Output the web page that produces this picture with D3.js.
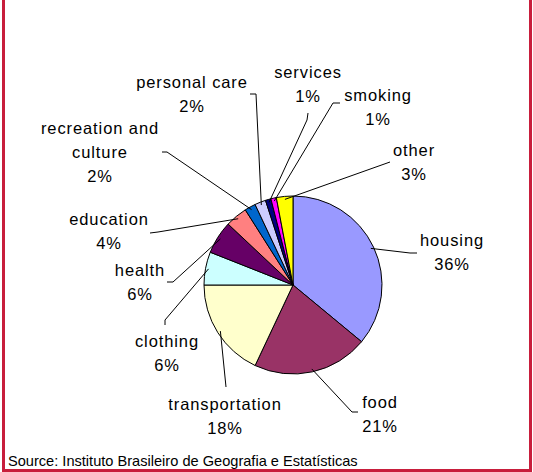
<!DOCTYPE html>
<html>
<head>
<meta charset="utf-8">
<script src="https://cdn.jsdelivr.net/npm/d3@7"></script>
<style>
  body { margin: 0; background: #fff; }
  svg { display: block; }
</style>
</head>
<body>
<svg id="chart" width="533" height="472"></svg>
<script>
// data (percent of household spending)
var categories = ["housing", "food", "transportation", "clothing", "health", "education",
  "recreation and culture", "personal care", "services", "smoking", "other"];
var shares = [36, 21, 18, 6, 6, 4, 2, 2, 1, 1, 3];
var colors = ["#9999ff", "#993366", "#ffffcc", "#ccffff", "#660066", "#ff8080",
  "#0066cc", "#ccccff", "#000080", "#ff00ff", "#ffff00"];
// how each label is broken into lines
var labelLines = [["housing"], ["food"], ["transportation"], ["clothing"], ["health"], ["education"],
  ["recreation and", "culture"], ["personal care"], ["services"], ["smoking"], ["other"]];
var sourceNote = "Source: Instituto Brasileiro de Geografia e Estatísticas";

// layout: label anchor (centre of first line) and leader elbow for each slice
var labelPos = [[452, 246], [380, 408], [225, 410], [167, 347], [140, 276], [109, 225],
  [100, 134], [192, 88], [308, 78], [378, 101], [414, 156]];
var elbows = [[[417, 253], [410, 253]], [[358, 412], [352, 412]], [[226, 387], [226, 387]],
  [[165, 325], [165, 320]], [[167, 282], [173, 282]], [[150, 233], [158, 232]],
  [[162, 152], [167, 152]], [[250, 94], [256, 94]], [[308, 113], [307, 120]],
  [[340, 103], [333, 103]], [[390, 162], [390, 162]]];

var svg = d3.select("#chart");
var cx = 293, cy = 285, radius = 89;

// red frame round the picture
svg.append("rect")
  .attr("x", 3.5).attr("y", -10)
  .attr("width", 527).attr("height", 480.5)
  .attr("fill", "none")
  .attr("stroke", "#c81e3c")
  .attr("stroke-width", 3);

var pie = d3.pie().sort(null).value(function(d) { return d; });
var arcs = pie(shares);
var arc = d3.arc().innerRadius(0).outerRadius(radius);

var g = svg.append("g").attr("transform", "translate(" + cx + "," + cy + ")");

g.selectAll("path.slice")
  .data(arcs)
  .enter().append("path")
  .attr("class", "slice")
  .attr("d", arc)
  .attr("fill", function(d, i) { return colors[i]; })
  .attr("stroke", "#000")
  .attr("stroke-width", 1);

// leader lines: from the slice edge to the elbow near each label
var edge = d3.arc().innerRadius(radius - 3).outerRadius(radius - 3);
var line = d3.line();
arcs.forEach(function(d, i) {
  var c = edge.centroid(d);
  var pts = [[c[0] + cx, c[1] + cy], elbows[i][1], elbows[i][0]];
  svg.append("path")
    .attr("d", line(pts))
    .attr("fill", "none")
    .attr("stroke", "#000")
    .attr("stroke-width", 1);
});

// labels
categories.forEach(function(name, i) {
  var lines = labelLines[i].concat([shares[i] + "%"]);
  var t = svg.append("text")
    .attr("x", labelPos[i][0])
    .attr("y", labelPos[i][1])
    .attr("text-anchor", "middle")
    .attr("font-family", "Liberation Sans, Arial, sans-serif")
    .attr("font-size", 16.5)
    .attr("letter-spacing", 0.9)
    .attr("fill", "#000");
  lines.forEach(function(l, j) {
    t.append("tspan")
      .attr("x", labelPos[i][0])
      .attr("dy", j === 0 ? 0 : 24)
      .text(l);
  });
});

svg.append("text")
  .attr("x", 8)
  .attr("y", 466)
  .attr("font-family", "Liberation Sans, Arial, sans-serif")
  .attr("font-size", 14.6)
  .attr("fill", "#000")
  .text(sourceNote);
</script>
</body>
</html>
